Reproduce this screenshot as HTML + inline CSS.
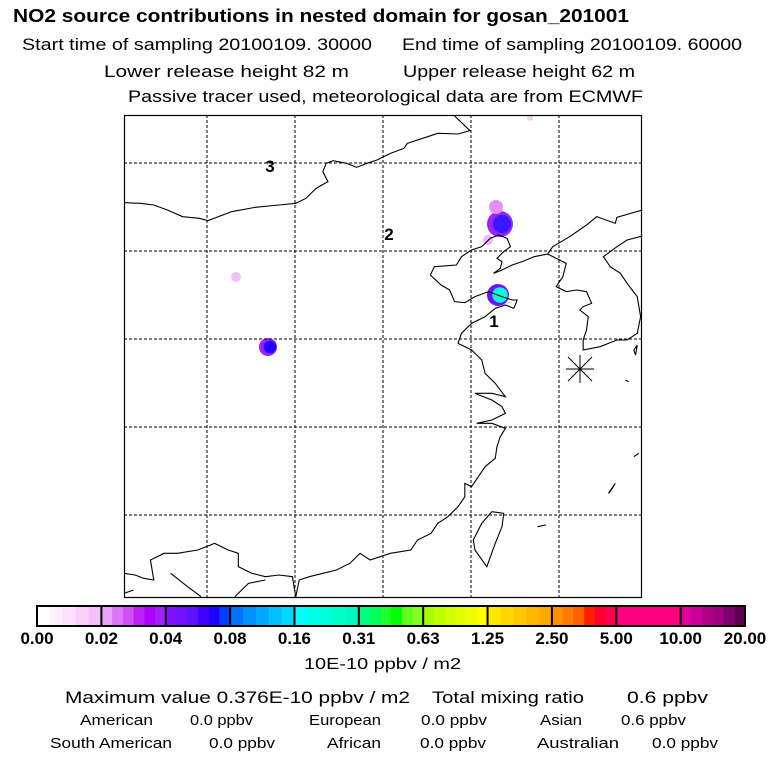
<!DOCTYPE html>
<html><head><meta charset="utf-8"><style>
html,body{margin:0;padding:0;background:#fff;}
svg{display:block;font-family:"Liberation Sans",sans-serif;}
</style></head><body>
<svg id="chart" width="768" height="768" viewBox="0 0 768 768" xmlns="http://www.w3.org/2000/svg">
<rect width="768" height="768" fill="#fff"/>
<g fill="#000">
<text x="13" y="22" font-size="18" font-weight="bold" textLength="616" lengthAdjust="spacingAndGlyphs">NO2 source contributions in nested domain for gosan_201001</text>
<text x="22" y="50" font-size="17" textLength="350" lengthAdjust="spacingAndGlyphs">Start time of sampling 20100109. 30000</text>
<text x="402" y="50" font-size="17" textLength="340" lengthAdjust="spacingAndGlyphs">End time of sampling 20100109. 60000</text>
<text x="104" y="77" font-size="17" textLength="245" lengthAdjust="spacingAndGlyphs">Lower release height   82 m</text>
<text x="403" y="77" font-size="17" textLength="232" lengthAdjust="spacingAndGlyphs">Upper release height   62 m</text>
<text x="128" y="102" font-size="17" textLength="515" lengthAdjust="spacingAndGlyphs">Passive tracer used, meteorological data are from ECMWF</text>
</g>
<g id="map"></g>
<g id="cbar"></g>
<g fill="#000">
<text x="304" y="669" font-size="16" textLength="157" lengthAdjust="spacingAndGlyphs">10E-10 ppbv / m2</text>
<text x="65" y="703" font-size="17" textLength="345" lengthAdjust="spacingAndGlyphs">Maximum value  0.376E-10 ppbv / m2</text>
<text x="432" y="703" font-size="17" textLength="152" lengthAdjust="spacingAndGlyphs">Total mixing ratio</text>
<text x="627" y="703" font-size="17" textLength="81" lengthAdjust="spacingAndGlyphs">0.6 ppbv</text>
<g font-size="15">
<text x="80" y="725" textLength="73" lengthAdjust="spacingAndGlyphs">American</text>
<text x="190" y="725" textLength="63" lengthAdjust="spacingAndGlyphs">0.0 ppbv</text>
<text x="309" y="725" textLength="72" lengthAdjust="spacingAndGlyphs">European</text>
<text x="421" y="725" textLength="66" lengthAdjust="spacingAndGlyphs">0.0 ppbv</text>
<text x="540" y="725" textLength="42" lengthAdjust="spacingAndGlyphs">Asian</text>
<text x="621" y="725" textLength="65" lengthAdjust="spacingAndGlyphs">0.6 ppbv</text>
<text x="50" y="748" textLength="122" lengthAdjust="spacingAndGlyphs">South American</text>
<text x="209" y="748" textLength="66" lengthAdjust="spacingAndGlyphs">0.0 ppbv</text>
<text x="327" y="748" textLength="54" lengthAdjust="spacingAndGlyphs">African</text>
<text x="420" y="748" textLength="66" lengthAdjust="spacingAndGlyphs">0.0 ppbv</text>
<text x="537" y="748" textLength="82" lengthAdjust="spacingAndGlyphs">Australian</text>
<text x="652" y="748" textLength="66" lengthAdjust="spacingAndGlyphs">0.0 ppbv</text>
</g>
</g>
</svg>
<script>
// colorbar data
const cbTicks = ["0.00","0.02","0.04","0.08","0.16","0.31","0.63","1.25","2.50","5.00","10.00","20.00"];
const cbColors = [
 ["#ffffff","#ffeeff","#ffe0ff","#f8d0f8","#f4c0f8"],
 ["#e8a0f8","#dc78f8","#d050f8","#c020f8","#b000ff","#a020ff"],
 ["#8010ff","#7010ff","#6010ff","#4000ff","#2000ff","#0040ff"],
 ["#0070ff","#0090ff","#00a8ff","#00c0ff","#00d8ff"],
 ["#00ffff","#00ffe8","#00ffd8","#00ffc8","#00f8c0"],
 ["#00ff80","#00ff60","#20ff30","#00ff00","#60ff20","#80ff20"],
 ["#a8ff00","#c0ff00","#d0ff00","#e0ff00","#f0ff00","#ffff00"],
 ["#ffe800","#ffd800","#ffc800","#ffb800","#ffa800"],
 ["#ff9000","#ff7800","#ff6000","#ff2000","#ff0030","#ff0050"],
 ["#ff0080","#ff0080","#ff0080","#ff0080","#ff0080"],
 ["#e000a0","#c80098","#b00088","#a00080","#800070","#600050"]
];
// plume data (original-pixel centres, radius, colours)
const plumeX = [500, 268, 498, 236, 530, 496, 488];
const plumeY = [224, 347, 295, 277, 118, 207, 240];
const plumeR = [13, 9, 11, 5, 3, 7, 5];
const plumeOuter = ["#9a22ff","#a020ff","#7010ff","#f0c0f8","#f8d0f8","#e090f8","#f0b8f8"];
const plumeInner = ["#3818ff","#2000ff","#00ffd8","#f0c0f8","#f8d0f8","#e090f8","#f0b8f8"];

const NS="http://www.w3.org/2000/svg";
function mk(tag, attrs, parent){const e=document.createElementNS(NS,tag);for(const k in attrs)e.setAttribute(k,attrs[k]);parent.appendChild(e);return e;}

const map=document.getElementById('map');
const L=124,T=115,R=642,B=598;
for(let i=0;i<plumeX.length;i++){
  const o=mk('circle',{cx:plumeX[i],cy:plumeY[i],r:plumeR[i],fill:plumeOuter[i]},map);
  
  
  if(plumeR[i]>7){
    const n=mk('circle',{cx:plumeX[i]+2,cy:plumeY[i],r:plumeR[i]*0.7,fill:plumeInner[i]},map);
    
    
  }
}
const coasts=[
"M990,18 1035,62 1000,72 940,70 910,80 880,90 850,100 840,115 800,130 760,150 730,160 700,172 670,160 630,152 610,160 600,185 615,215 580,235 550,265 520,280 470,285 400,292 330,305 260,332 235,325 185,320 140,300 100,285 60,280 12,278",
"M1545,300 1470,322 1465,340 1410,320 1380,345 1330,380 1280,410 1265,432 1225,440 1190,455 1160,465 1130,480 1105,490 1125,475 1130,455 1115,445 1135,425 1155,410 1145,385 1120,375 1095,385 1070,410 1040,420 1010,440 995,465 930,470 918,495 950,525 975,540 990,575 1020,578 1050,560 1090,545 1130,560 1160,570 1175,570 1165,595 1140,585 1110,595 1080,620 1040,640 1010,670 1000,700 1040,720 1070,750 1080,790 1110,820 1140,860 1100,850 1050,850 1100,870 1130,890 1140,910 1100,930 1055,940 1100,940 1140,955 1125,980 1115,1010 1110,1045 1080,1070 1060,1100 1040,1130 1020,1120 1020,1160 1000,1190 970,1220 940,1240 920,1270 880,1290 860,1320 800,1330 770,1340 740,1350 710,1330 680,1360 640,1380 600,1390 560,1400 530,1410 520,1460",
"M1265,432 1300,450 1320,460 1310,500 1290,530 1320,545 1350,540 1380,545 1395,580 1370,590 1360,600 1385,620 1380,660 1370,690 1370,720 1420,710 1470,690 1500,690 1530,670 1540,620 1530,560 1500,520 1480,490 1450,470 1430,440 1470,410 1500,390 1545,378",
"M1100,1205 1135,1210 1130,1250 1110,1300 1085,1370 1050,1320 1045,1290 1070,1240 Z",
"M12,1390 45,1395 70,1405 100,1410 90,1350 130,1330 170,1330 230,1320 280,1300 320,1320 350,1330 350,1370 390,1390 430,1400 470,1395 510,1400 520,1460",
"M12,1450 40,1440 M150,1390 200,1430 240,1460 M340,1460 380,1420 430,1410",
"M1520,720 1530,705 1525,735 Z M1495,810 1505,815 M1445,1150 1465,1120 1450,1145 Z M1520,1040 1535,1030 M1235,1250 1260,1245"
];
const cg=mk('g',{transform:`translate(120,110) scale(${1/2.958},${1/3})`},map);
coasts.forEach(d=>{const p=mk('path',{d:d,fill:'none',stroke:'#000','stroke-width':1.1,'vector-effect':'non-scaling-stroke'},cg);

});
[207,295,383,471,559].forEach(x=>{const l=mk('line',{x1:x,y1:T,x2:x,y2:B,stroke:'#000','stroke-width':1,'stroke-dasharray':'3,2'},map);

});
[163,251,339,427,515].forEach(y=>{const l=mk('line',{x1:L,y1:y,x2:R,y2:y,stroke:'#000','stroke-width':1,'stroke-dasharray':'3,2'},map);

});
const fr=mk('rect',{x:L+0.5,y:T+0.5,width:R-L-1,height:B-T-1,fill:'none',stroke:'#000','stroke-width':1.2},map);


const st=mk('g',{stroke:'#000','stroke-width':1},map);


[[568,357,592,381],[592,357,568,381],[580,355,580,383],[566,369,594,369]].forEach(a=>mk('line',{x1:a[0],y1:a[1],x2:a[2],y2:a[3]},st));
[["3",270,172],["2",389,240],["1",494,327]].forEach(a=>{const t=mk('text',{x:a[1],y:a[2],'font-size':17,'font-weight':'bold','text-anchor':'middle'},map);t.textContent=a[0];

});
const cb=document.getElementById('cbar');
const cx0=37,cx1=745,cy0=606,cy1=626;
const segW=(cx1-cx0)/cbColors.length;
cbColors.forEach((cols,i)=>{
  const bw=segW/cols.length;
  cols.forEach((c,j)=>{const r=mk('rect',{x:cx0+i*segW+j*bw,y:cy0,width:bw+0.5,height:cy1-cy0,fill:c},cb);
  
  });
});
for(let i=0;i<=cbColors.length;i++){const l=mk('line',{x1:cx0+i*segW,y1:cy0,x2:cx0+i*segW,y2:cy1,stroke:'#000','stroke-width':2},cb);

}
const cbf=mk('rect',{x:cx0,y:cy0,width:cx1-cx0,height:cy1-cy0,fill:'none',stroke:'#000','stroke-width':2},cb);


cbTicks.forEach((s,i)=>{const t=mk('text',{x:cx0+i*segW,y:644,'font-size':17,'font-weight':'bold','text-anchor':'middle'},cb);t.textContent=s;

});
</script>
</body></html>
